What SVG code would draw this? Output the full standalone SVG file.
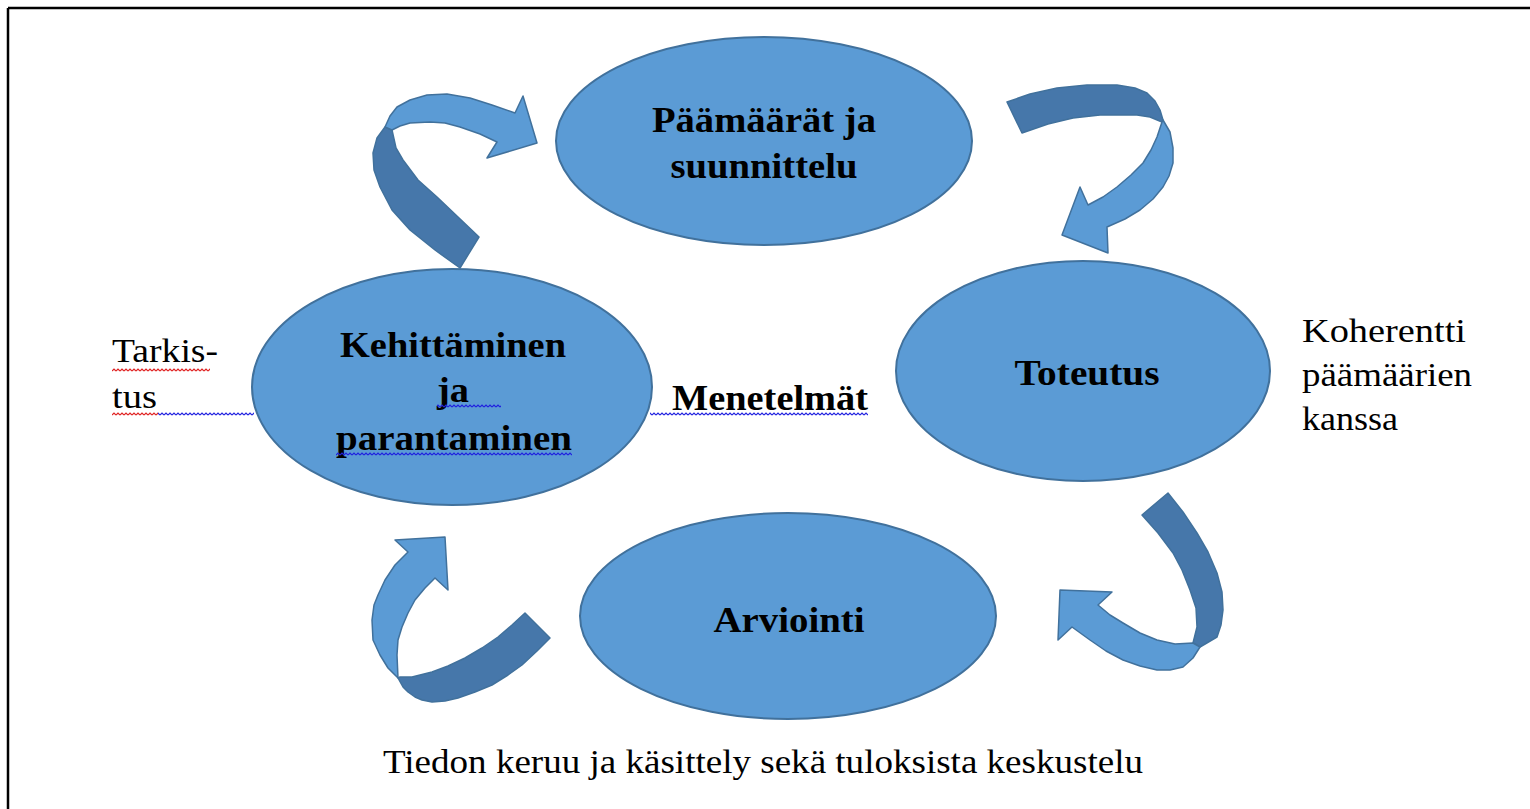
<svg xmlns="http://www.w3.org/2000/svg" width="1530" height="809" viewBox="0 0 1530 809">
<style>
.node{fill:#5b9bd5;stroke:#41719c;stroke-width:2}
.lt{fill:#5b9bd5;stroke:#41719c;stroke-width:1.5;stroke-linejoin:round}
.dk{fill:#4677aa;stroke:#41719c;stroke-width:1.5;stroke-linejoin:round}
.b{font-family:"Liberation Serif",serif;font-weight:bold;font-size:36px;fill:#000}
.r{font-family:"Liberation Serif",serif;font-size:33px;fill:#000}
</style>
<defs>
<pattern id="wr" width="4" height="4" patternUnits="userSpaceOnUse"><path d="M0,3 L2,1 L4,3" fill="none" stroke="#e02020" stroke-width="1.2"/></pattern>
<pattern id="wb" width="4" height="4" patternUnits="userSpaceOnUse"><path d="M0,3 L2,1 L4,3" fill="none" stroke="#2020e0" stroke-width="1.2"/></pattern>
</defs>
<rect width="1530" height="809" fill="#fff"/>
<g id="frame" stroke="#000" stroke-width="2.5" fill="none">
<line x1="8" y1="8" x2="1530" y2="8"/>
<line x1="8" y1="8" x2="8" y2="809"/>
</g>
<g id="connectors">
<g id="arrow-top-left">
<path class="dk" d="M460,268 L435,250 L410,230 L392,210 L380,187 L374,170 L373,153 L377,138 L385,127 L392,130 L396,148 L403,160 L418,180 L437,197 L458,217 L479,237 Z"/>
<path class="lt" d="M385,127 L390,116 L397,107 L410,100 L427,95 L447,94 L470,98 L492,105 L515,113 L523,96 L537,143 L487,158 L497,142 L480,134 L460,127 L445,123 L430,122 L410,123 L400,126 L392,130 Z"/>
</g>
<g id="arrow-top-right">
<path class="dk" d="M1007,102 L1030,94 L1057,88 L1087,85 L1117,85 L1135,88 L1147,93 L1155,101 L1160,110 L1163,120 L1162,122 L1150,117 L1137,115 L1123,115 L1100,115 L1073,118 L1048,124 L1022,133 Z"/>
<path class="lt" d="M1163,120 L1170,132 L1173,148 L1173,163 L1169,176 L1163,187 L1153,199 L1140,210 L1125,219 L1107,227 L1108,253 L1062,235 L1080,187 L1088,205 L1103,197 L1117,187 L1131,175 L1143,163 L1151,150 L1157,137 L1162,122 Z"/>
</g>
<g id="arrow-bottom-right">
<path class="dk" d="M1142,515 L1168,493 L1183,512 L1197,533 L1208,552 L1217,573 L1222,592 L1223,610 L1221,625 L1217,637 L1200,647 L1193,643 L1197,627 L1196,608 L1190,590 L1182,570 L1173,553 L1158,533 Z"/>
<path class="lt" d="M1200,647 L1193,658 L1183,667 L1170,670 L1157,670 L1140,666 L1123,660 L1106,651 L1090,640 L1072,627 L1058,640 L1060,590 L1112,592 L1098,605 L1110,615 L1123,623 L1140,633 L1157,640 L1175,644 L1193,643 Z"/>
</g>
<g id="arrow-bottom-left">
<path class="dk" d="M525,613 L550,638 L537,651 L522,665 L508,675 L492,685 L475,692 L458,698 L445,701 L432,702 L422,700 L415,697 L408,692 L403,687 L398,678 L400,677 L412,677 L432,672 L448,666 L465,658 L482,648 L498,637 L512,625 Z"/>
<path class="lt" d="M398,678 L388,668 L380,655 L373,640 L372,620 L374,605 L378,595 L385,580 L395,565 L408,552 L395,540 L445,537 L448,590 L435,578 L425,588 L415,600 L408,613 L402,627 L398,640 L397,655 L398,678 Z"/>
</g>
</g>
<g id="node-paamaarat">
<ellipse class="node" cx="764" cy="141" rx="208" ry="104"/>
<text class="b" x="764" y="132" text-anchor="middle" textLength="224" lengthAdjust="spacingAndGlyphs">Päämäärät ja</text>
<text class="b" x="764" y="178" text-anchor="middle" textLength="187" lengthAdjust="spacingAndGlyphs">suunnittelu</text>
</g>
<g id="node-toteutus">
<ellipse class="node" cx="1083" cy="371" rx="187" ry="110"/>
<text class="b" x="1087" y="385" text-anchor="middle" textLength="145" lengthAdjust="spacingAndGlyphs">Toteutus</text>
</g>
<g id="node-kehittaminen">
<ellipse class="node" cx="452" cy="387" rx="200" ry="118"/>
<text class="b" x="453" y="357" text-anchor="middle" textLength="226" lengthAdjust="spacingAndGlyphs">Kehittäminen</text>
<text class="b" x="453" y="402" text-anchor="middle" textLength="32" lengthAdjust="spacingAndGlyphs">ja</text>
<text class="b" x="454" y="450" text-anchor="middle" textLength="236" lengthAdjust="spacingAndGlyphs">parantaminen</text>
</g>
<g id="node-arviointi">
<ellipse class="node" cx="788" cy="616" rx="208" ry="103"/>
<text class="b" x="789" y="632" text-anchor="middle" textLength="151" lengthAdjust="spacingAndGlyphs">Arviointi</text>
</g>
<g id="labels">
<text class="b" x="672" y="410" textLength="196" lengthAdjust="spacingAndGlyphs">Menetelmät</text>
<text class="r" x="112" y="362" textLength="106" lengthAdjust="spacingAndGlyphs">Tarkis-</text>
<text class="r" x="112" y="408" textLength="45" lengthAdjust="spacingAndGlyphs">tus</text>
<text class="r" x="1302" y="342" textLength="164" lengthAdjust="spacingAndGlyphs">Koherentti</text>
<text class="r" x="1302" y="386" textLength="170" lengthAdjust="spacingAndGlyphs">päämäärien</text>
<text class="r" x="1302" y="430" textLength="96" lengthAdjust="spacingAndGlyphs">kanssa</text>
<text class="r" x="383" y="773" textLength="760" lengthAdjust="spacingAndGlyphs">Tiedon keruu ja käsittely sekä tuloksista keskustelu</text>
</g>
<g id="spellcheck">
<rect x="112" y="368" width="98" height="4" fill="url(#wr)"/>
<rect x="112" y="412" width="46" height="4" fill="url(#wr)"/>
<rect x="158" y="412" width="96" height="4" fill="url(#wb)"/>
<rect x="437" y="404" width="64" height="4" fill="url(#wb)"/>
<rect x="336" y="452" width="236" height="4" fill="url(#wb)"/>
<rect x="650" y="412" width="218" height="4" fill="url(#wb)"/>
</g>
</svg>
